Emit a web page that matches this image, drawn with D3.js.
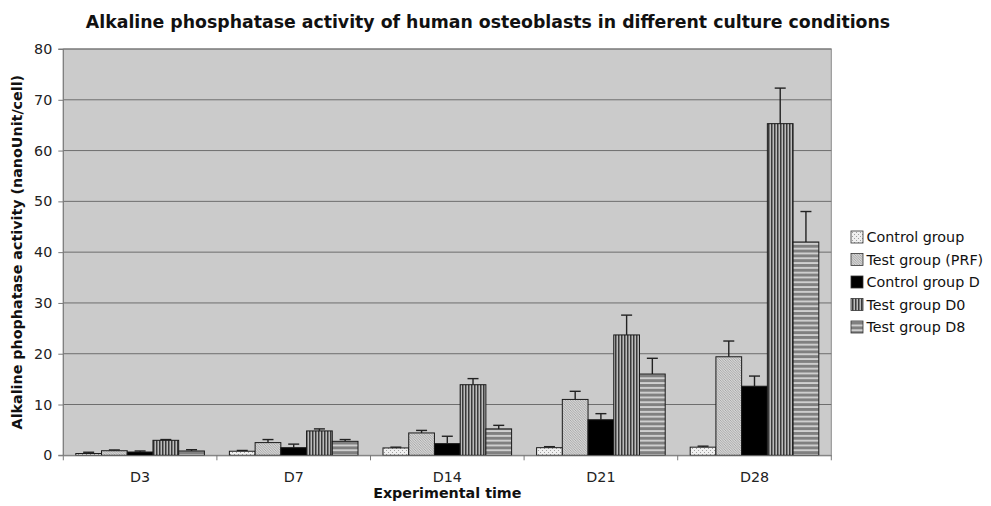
<!DOCTYPE html>
<html><head><meta charset="utf-8">
<script src="https://cdn.jsdelivr.net/npm/d3@7"></script>
<style>
body{margin:0;background:#fff;}
svg{display:block;font-family:"DejaVu Sans",Verdana,sans-serif;}
</style></head>
<body>
<svg id="chart" width="991" height="506"></svg>
<script>
const title = "Alkaline phosphatase activity of human osteoblasts in different culture conditions";
const yTitle = "Alkaline phophatase activity (nanoUnit/cell)";
const xTitle = "Experimental time";
const categories = ["D3","D7","D14","D21","D28"];
const seriesNames = ["Control group","Test group (PRF)","Control group D","Test group D0","Test group D8"];
const controlGroup = [0.35, 0.8, 1.45, 1.5, 1.6];
const testPRF      = [0.9, 2.5, 4.4, 11.0, 19.4];
const controlD     = [0.65, 1.5, 2.3, 7.0, 13.6];
const testD0       = [2.95, 4.8, 13.9, 23.7, 65.3];
const testD8       = [0.85, 2.75, 5.2, 16.0, 42.0];
const errControlGroup = [0.6, 0.95, 1.6, 1.7, 1.8];
const errTestPRF      = [1.05, 3.1, 4.9, 12.6, 22.5];
const errControlD     = [0.85, 2.2, 3.75, 8.2, 15.6];
const errTestD0       = [3.1, 5.2, 15.1, 27.6, 72.3];
const errTestD8       = [1.1, 3.1, 5.9, 19.1, 48.0];
const yTicks = [0,10,20,30,40,50,60,70,80];

const values = [controlGroup, testPRF, controlD, testD0, testD8];
const errs = [errControlGroup, errTestPRF, errControlD, errTestD0, errTestD8];
const fills = ["url(#pDots)","url(#pDiag)","#000","url(#pVert)","url(#pHoriz)"];

const svg = d3.select("#chart");
const M = {left:63.3, right:831.3, top:49, bottom:455.3};
const FS = 14.3;

// patterns
const defs = svg.append("defs");
let p = defs.append("pattern").attr("id","pDots").attr("patternUnits","userSpaceOnUse").attr("width",4).attr("height",4);
p.append("rect").attr("width",4).attr("height",4).attr("fill","#f0f0f0");
p.append("rect").attr("x",0).attr("y",0).attr("width",1).attr("height",1).attr("fill","#a0a0a0");
p.append("rect").attr("x",2).attr("y",2).attr("width",1).attr("height",1).attr("fill","#a0a0a0");

p = defs.append("pattern").attr("id","pDiag").attr("patternUnits","userSpaceOnUse").attr("width",2.5).attr("height",2.5);
p.append("rect").attr("width",2.5).attr("height",2.5).attr("fill","#d6d6d6");
p.append("path").attr("d","M0,0 L2.5,2.5 M-1,1.5 L1,3.5 M1.5,-1 L3.5,1").attr("stroke","#9c9c9c").attr("stroke-width",0.8);

p = defs.append("pattern").attr("id","pVert").attr("patternUnits","userSpaceOnUse").attr("width",3).attr("height",4);
p.append("rect").attr("width",3).attr("height",4).attr("fill","#bcbcbc");
p.append("rect").attr("width",1.5).attr("height",4).attr("fill","#3a3a3a");

p = defs.append("pattern").attr("id","pHoriz").attr("patternUnits","userSpaceOnUse").attr("width",4).attr("height",4.8);
p.append("rect").attr("width",4).attr("height",4.8).attr("fill","#808080");
p.append("rect").attr("y",3.2).attr("width",4).attr("height",1.3).attr("fill","#f4f4f4");

const x0 = d3.scaleBand().domain(categories).range([M.left, M.right]).padding(0);
const x1 = d3.scaleBand().domain(seriesNames).range([12.5, x0.bandwidth()-12.5]).padding(0);
const y = d3.scaleLinear().domain([0,80]).range([M.bottom, M.top]);

// plot background
svg.append("rect").attr("x",M.left).attr("y",M.top).attr("width",M.right-M.left).attr("height",M.bottom-M.top)
  .attr("fill","#cbcbcb").attr("stroke","#8c8c8c").attr("stroke-width",1);

// gridlines
svg.append("g").selectAll("line").data(yTicks.filter(t=>t>0)).join("line")
  .attr("x1",M.left).attr("x2",M.right).attr("y1",d=>y(d)).attr("y2",d=>y(d))
  .attr("stroke","#6e6e6e").attr("stroke-width",1);

// bars
const gBars = svg.append("g");
seriesNames.forEach((s,si)=>{
  const g = gBars.append("g");
  const cx = c => x0(c)+x1(s)+x1.bandwidth()/2;
  g.selectAll("line.err").data(categories).join("line").attr("class","err")
    .attr("x1",cx).attr("x2",cx)
    .attr("y1",(c,i)=>y(values[si][i])).attr("y2",(c,i)=>y(errs[si][i]))
    .attr("stroke","#222").attr("stroke-width",1.4);
  g.selectAll("line.cap").data(categories).join("line").attr("class","cap")
    .attr("x1",c=>cx(c)-5.5).attr("x2",c=>cx(c)+5.5)
    .attr("y1",(c,i)=>y(errs[si][i])).attr("y2",(c,i)=>y(errs[si][i]))
    .attr("stroke","#222").attr("stroke-width",1.4);
  g.selectAll("rect").data(categories).join("rect")
    .attr("x",c=>x0(c)+x1(s)).attr("width",x1.bandwidth())
    .attr("y",(c,i)=>y(values[si][i])).attr("height",(c,i)=>M.bottom-y(values[si][i]))
    .attr("fill",fills[si]).attr("stroke","#1a1a1a").attr("stroke-width",1);
});

// y axis
const yAxis = d3.axisLeft(y).tickValues(yTicks).tickSize(5).tickPadding(6);
const ga = svg.append("g").attr("transform",`translate(${M.left},0)`).call(yAxis);
ga.select(".domain").attr("stroke","#7a7a7a").attr("d",`M-5,${M.top}H0V${M.bottom}H-5`);
ga.selectAll(".tick line").attr("stroke","#7a7a7a");
ga.selectAll("text").attr("font-size",FS).attr("fill","#222").attr("font-family","DejaVu Sans");

// x axis
const xAxis = d3.axisBottom(x0).tickSize(0).tickPadding(0);
const gx = svg.append("g").attr("transform",`translate(0,${M.bottom})`).call(xAxis);
gx.select(".domain").attr("stroke","#7a7a7a");
gx.selectAll("text").attr("font-size",FS).attr("fill","#222").attr("font-family","DejaVu Sans").attr("y",26.5).attr("dy",null);
gx.selectAll(".xt").data(categories.concat(["_end"])).join("line").attr("class","xt")
  .attr("x1",c=>c==="_end"?M.right:x0(c)).attr("x2",c=>c==="_end"?M.right:x0(c))
  .attr("y1",0).attr("y2",5).attr("stroke","#7a7a7a");

// titles
const t = svg.append("text").attr("x",488).attr("y",28).attr("text-anchor","middle")
  .attr("font-weight","bold").attr("font-size",16).attr("fill","#111").text(title);
const tl = t.node().getComputedTextLength();
t.attr("font-size",16*805/tl);

svg.append("text").attr("transform",`translate(22,${(M.top+M.bottom)/2}) rotate(-90)`)
  .attr("text-anchor","middle").attr("font-weight","bold").attr("font-size",FS).attr("fill","#111").text(yTitle);

svg.append("text").attr("x",(M.left+M.right)/2).attr("y",498).attr("text-anchor","middle")
  .attr("font-weight","bold").attr("font-size",FS).attr("fill","#111").text(xTitle);

// legend
const lg = svg.append("g");
const rowsY = [237,259.5,282,304.5,327];
seriesNames.forEach((s,i)=>{
  lg.append("rect").attr("x",851).attr("y",rowsY[i]-6).attr("width",12).attr("height",12)
    .attr("fill",fills[i]).attr("stroke","#333").attr("stroke-width",0.8);
  lg.append("text").attr("x",866.5).attr("y",rowsY[i]).attr("dy","0.36em")
    .attr("font-size",FS).attr("fill","#111").text(s);
});
</script>
</body></html>
